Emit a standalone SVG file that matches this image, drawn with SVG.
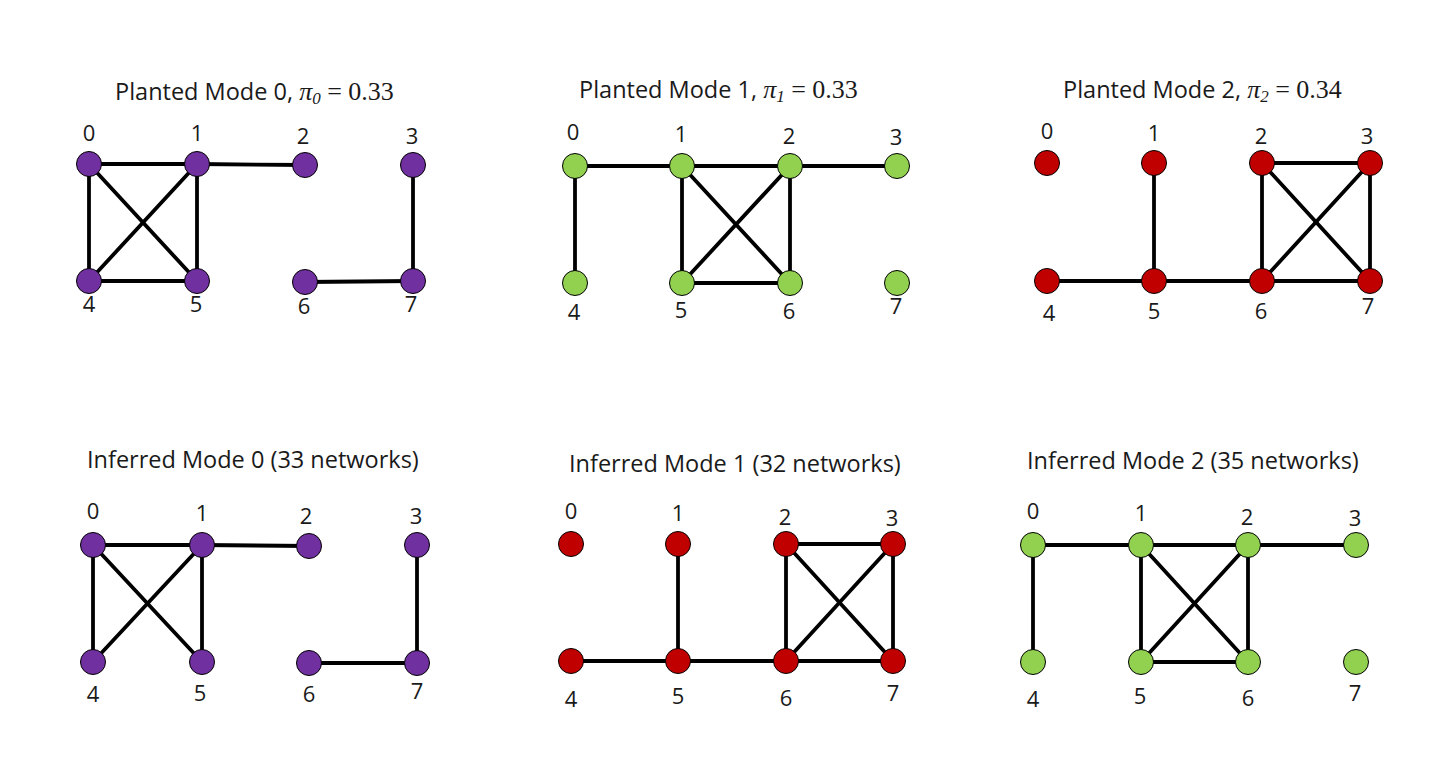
<svg xmlns="http://www.w3.org/2000/svg" width="1434" height="778" viewBox="0 0 1434 778">
<style>
.t{font-family:"Open Sans","Noto Sans","Liberation Sans",sans-serif;font-size:23.5px;fill:#1a1a1a}
.m{font-family:"Liberation Serif","DejaVu Serif",serif;fill:#1a1a1a}
.mi{font-family:"Liberation Serif","DejaVu Serif",serif;font-style:italic}
.l{font-family:"Open Sans","Noto Sans","Liberation Sans",sans-serif;font-size:22px;fill:#1a1a1a;text-anchor:middle}
.e line{stroke:#000;stroke-width:3.8;stroke-linecap:round}
.p{fill:#7030A0;stroke:#000;stroke-width:1}
.g{fill:#92D050;stroke:#000;stroke-width:1}
.r{fill:#C00000;stroke:#000;stroke-width:1}
</style>
<rect width="1434" height="778" fill="#fff"/>
<!-- Titles -->
<g id="titles">
<text class="t" x="115" y="100">Planted Mode 0, <tspan class="mi" font-size="26">π</tspan><tspan class="mi" font-size="17" dy="4">0</tspan><tspan class="m" font-size="26" dy="-4"> = 0.33</tspan></text>
<text class="t" x="579" y="98">Planted Mode 1, <tspan class="mi" font-size="26">π</tspan><tspan class="mi" font-size="17" dy="4">1</tspan><tspan class="m" font-size="26" dy="-4"> = 0.33</tspan></text>
<text class="t" x="1063" y="98">Planted Mode 2, <tspan class="mi" font-size="26">π</tspan><tspan class="mi" font-size="17" dy="4">2</tspan><tspan class="m" font-size="26" dy="-4"> = 0.34</tspan></text>
<text class="t" x="87" y="468">Inferred Mode 0 (33 networks)</text>
<text class="t" x="569" y="472">Inferred Mode 1 (32 networks)</text>
<text class="t" x="1027" y="469">Inferred Mode 2 (35 networks)</text>
</g>
<!-- Connectors -->
<g id="connectors" class="e">
<!-- Planted 0 -->
<line x1="89" y1="164" x2="197" y2="164"/>
<line x1="197" y1="164" x2="305" y2="165"/>
<line x1="89" y1="164" x2="89" y2="281"/>
<line x1="89" y1="164" x2="197" y2="281"/>
<line x1="197" y1="164" x2="89" y2="281"/>
<line x1="197" y1="164" x2="197" y2="281"/>
<line x1="89" y1="281" x2="197" y2="281"/>
<line x1="413" y1="165" x2="413" y2="281"/>
<line x1="305" y1="282" x2="413" y2="281"/>
<!-- Planted 1 -->
<line x1="575" y1="166" x2="682" y2="166"/>
<line x1="682" y1="166" x2="790" y2="166"/>
<line x1="790" y1="166" x2="897" y2="166"/>
<line x1="575" y1="166" x2="575" y2="283"/>
<line x1="682" y1="166" x2="682" y2="283"/>
<line x1="682" y1="166" x2="790" y2="283"/>
<line x1="790" y1="166" x2="682" y2="283"/>
<line x1="790" y1="166" x2="790" y2="283"/>
<line x1="682" y1="283" x2="790" y2="283"/>
<!-- Planted 2 -->
<line x1="1154" y1="163" x2="1154" y2="281"/>
<line x1="1047" y1="281" x2="1154" y2="281"/>
<line x1="1154" y1="281" x2="1262" y2="281"/>
<line x1="1262" y1="163" x2="1370" y2="163"/>
<line x1="1262" y1="163" x2="1262" y2="281"/>
<line x1="1262" y1="163" x2="1370" y2="281"/>
<line x1="1370" y1="163" x2="1262" y2="281"/>
<line x1="1370" y1="163" x2="1370" y2="281"/>
<line x1="1262" y1="281" x2="1370" y2="281"/>
<!-- Inferred 0 -->
<line x1="93" y1="545" x2="202" y2="545"/>
<line x1="202" y1="545" x2="309" y2="546"/>
<line x1="93" y1="545" x2="93" y2="662"/>
<line x1="93" y1="545" x2="202" y2="662"/>
<line x1="202" y1="545" x2="93" y2="662"/>
<line x1="202" y1="545" x2="202" y2="662"/>
<line x1="417" y1="545" x2="417" y2="663"/>
<line x1="309" y1="663" x2="417" y2="663"/>
<!-- Inferred 1 -->
<line x1="678" y1="544" x2="678" y2="661"/>
<line x1="571" y1="661" x2="678" y2="661"/>
<line x1="678" y1="661" x2="786" y2="661"/>
<line x1="786" y1="544" x2="893" y2="544"/>
<line x1="786" y1="544" x2="786" y2="661"/>
<line x1="786" y1="544" x2="893" y2="661"/>
<line x1="893" y1="544" x2="786" y2="661"/>
<line x1="893" y1="544" x2="893" y2="661"/>
<line x1="786" y1="661" x2="893" y2="661"/>
<!-- Inferred 2 -->
<line x1="1033" y1="545" x2="1141" y2="545"/>
<line x1="1141" y1="545" x2="1248" y2="545"/>
<line x1="1248" y1="545" x2="1356" y2="545"/>
<line x1="1033" y1="545" x2="1033" y2="662"/>
<line x1="1141" y1="545" x2="1141" y2="662"/>
<line x1="1141" y1="545" x2="1248" y2="662"/>
<line x1="1248" y1="545" x2="1141" y2="662"/>
<line x1="1248" y1="545" x2="1248" y2="662"/>
<line x1="1141" y1="662" x2="1248" y2="662"/>
</g>
<!-- Planted Mode 0 nodes -->
<g id="p0-n0"><circle class="p" cx="89" cy="164" r="12.5"/><text class="l" x="89" y="141">0</text></g>
<g id="p0-n1"><circle class="p" cx="197" cy="164" r="12.5"/><text class="l" x="197" y="141">1</text></g>
<g id="p0-n2"><circle class="p" cx="305" cy="165" r="12.5"/><text class="l" x="303" y="144">2</text></g>
<g id="p0-n3"><circle class="p" cx="413" cy="165" r="12.5"/><text class="l" x="412" y="144">3</text></g>
<g id="p0-n4"><circle class="p" cx="89" cy="281" r="12.5"/><text class="l" x="89" y="312">4</text></g>
<g id="p0-n5"><circle class="p" cx="197" cy="281" r="12.5"/><text class="l" x="196" y="312">5</text></g>
<g id="p0-n6"><circle class="p" cx="305" cy="282" r="12.5"/><text class="l" x="304" y="314">6</text></g>
<g id="p0-n7"><circle class="p" cx="413" cy="281" r="12.5"/><text class="l" x="411" y="312">7</text></g>
<!-- Planted Mode 1 nodes -->
<g id="p1-n0"><circle class="g" cx="575" cy="166" r="12.5"/><text class="l" x="573" y="140">0</text></g>
<g id="p1-n1"><circle class="g" cx="682" cy="166" r="12.5"/><text class="l" x="681" y="142">1</text></g>
<g id="p1-n2"><circle class="g" cx="790" cy="166" r="12.5"/><text class="l" x="789" y="144">2</text></g>
<g id="p1-n3"><circle class="g" cx="897" cy="166" r="12.5"/><text class="l" x="896" y="145">3</text></g>
<g id="p1-n4"><circle class="g" cx="575" cy="283" r="12.5"/><text class="l" x="574" y="320">4</text></g>
<g id="p1-n5"><circle class="g" cx="682" cy="283" r="12.5"/><text class="l" x="681" y="318">5</text></g>
<g id="p1-n6"><circle class="g" cx="790" cy="283" r="12.5"/><text class="l" x="789" y="319">6</text></g>
<g id="p1-n7"><circle class="g" cx="897" cy="283" r="12.5"/><text class="l" x="896" y="314">7</text></g>
<!-- Planted Mode 2 nodes -->
<g id="p2-n0"><circle class="r" cx="1047" cy="163" r="12.5"/><text class="l" x="1047" y="139">0</text></g>
<g id="p2-n1"><circle class="r" cx="1154" cy="163" r="12.5"/><text class="l" x="1154" y="141">1</text></g>
<g id="p2-n2"><circle class="r" cx="1262" cy="163" r="12.5"/><text class="l" x="1261" y="144">2</text></g>
<g id="p2-n3"><circle class="r" cx="1370" cy="163" r="12.5"/><text class="l" x="1367" y="144">3</text></g>
<g id="p2-n4"><circle class="r" cx="1047" cy="281" r="12.5"/><text class="l" x="1049" y="321">4</text></g>
<g id="p2-n5"><circle class="r" cx="1154" cy="281" r="12.5"/><text class="l" x="1154" y="319">5</text></g>
<g id="p2-n6"><circle class="r" cx="1262" cy="281" r="12.5"/><text class="l" x="1261" y="319">6</text></g>
<g id="p2-n7"><circle class="r" cx="1370" cy="281" r="12.5"/><text class="l" x="1368" y="314">7</text></g>
<!-- Inferred Mode 0 nodes -->
<g id="i0-n0"><circle class="p" cx="93" cy="545" r="12.5"/><text class="l" x="93" y="519">0</text></g>
<g id="i0-n1"><circle class="p" cx="202" cy="545" r="12.5"/><text class="l" x="202" y="521">1</text></g>
<g id="i0-n2"><circle class="p" cx="309" cy="546" r="12.5"/><text class="l" x="306" y="524">2</text></g>
<g id="i0-n3"><circle class="p" cx="417" cy="545" r="12.5"/><text class="l" x="416" y="524">3</text></g>
<g id="i0-n4"><circle class="p" cx="93" cy="662" r="12.5"/><text class="l" x="93" y="702">4</text></g>
<g id="i0-n5"><circle class="p" cx="202" cy="662" r="12.5"/><text class="l" x="200" y="701">5</text></g>
<g id="i0-n6"><circle class="p" cx="309" cy="663" r="12.5"/><text class="l" x="309" y="702">6</text></g>
<g id="i0-n7"><circle class="p" cx="417" cy="663" r="12.5"/><text class="l" x="417" y="699">7</text></g>
<!-- Inferred Mode 1 nodes -->
<g id="i1-n0"><circle class="r" cx="571" cy="544" r="12.5"/><text class="l" x="571" y="519">0</text></g>
<g id="i1-n1"><circle class="r" cx="678" cy="544" r="12.5"/><text class="l" x="678" y="521">1</text></g>
<g id="i1-n2"><circle class="r" cx="786" cy="544" r="12.5"/><text class="l" x="785" y="525">2</text></g>
<g id="i1-n3"><circle class="r" cx="893" cy="544" r="12.5"/><text class="l" x="892" y="526">3</text></g>
<g id="i1-n4"><circle class="r" cx="571" cy="661" r="12.5"/><text class="l" x="571" y="707">4</text></g>
<g id="i1-n5"><circle class="r" cx="678" cy="661" r="12.5"/><text class="l" x="678" y="704">5</text></g>
<g id="i1-n6"><circle class="r" cx="786" cy="661" r="12.5"/><text class="l" x="786" y="706">6</text></g>
<g id="i1-n7"><circle class="r" cx="893" cy="661" r="12.5"/><text class="l" x="893" y="701">7</text></g>
<!-- Inferred Mode 2 nodes -->
<g id="i2-n0"><circle class="g" cx="1033" cy="545" r="12.5"/><text class="l" x="1033" y="519">0</text></g>
<g id="i2-n1"><circle class="g" cx="1141" cy="545" r="12.5"/><text class="l" x="1141" y="521">1</text></g>
<g id="i2-n2"><circle class="g" cx="1248" cy="545" r="12.5"/><text class="l" x="1247" y="525">2</text></g>
<g id="i2-n3"><circle class="g" cx="1356" cy="545" r="12.5"/><text class="l" x="1355" y="526">3</text></g>
<g id="i2-n4"><circle class="g" cx="1033" cy="662" r="12.5"/><text class="l" x="1033" y="707">4</text></g>
<g id="i2-n5"><circle class="g" cx="1141" cy="662" r="12.5"/><text class="l" x="1140" y="704">5</text></g>
<g id="i2-n6"><circle class="g" cx="1248" cy="662" r="12.5"/><text class="l" x="1248" y="706">6</text></g>
<g id="i2-n7"><circle class="g" cx="1356" cy="662" r="12.5"/><text class="l" x="1355" y="701">7</text></g>
</svg>
